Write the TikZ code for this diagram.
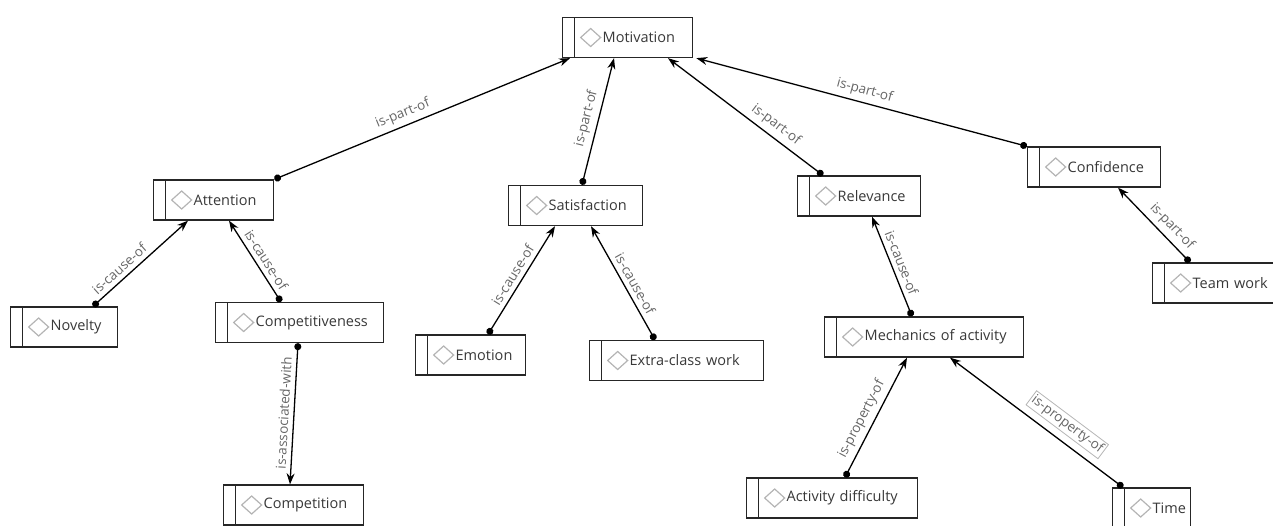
\documentclass[tikz,border=0pt]{standalone}
\usepackage{fontspec}
\setmainfont{Open Sans}
\usetikzlibrary{arrows.meta}
\setlength{\parindent}{0pt}
\definecolor{boxtext}{HTML}{383838}
\definecolor{reltext}{HTML}{666666}
\definecolor{icon}{HTML}{B4B4B4}

\begin{document}
\begin{tikzpicture}[x=1pt,y=-1pt,>={Stealth[length=11pt,width=8pt]},
	concept/.style={draw=black!85,line width=1.3pt,anchor=west,minimum height=40pt,
		inner xsep=0pt,inner ysep=0pt,text width=#1pt,align=left,text=boxtext,
		font=\fontsize{14.5}{17}\selectfont,execute at begin node={\hspace*{40pt}},
		path picture={
			\draw[black!85,line width=1.3pt] ([xshift=12pt]path picture bounding box.north west) -- ([xshift=12pt]path picture bounding box.south west);
			\draw[icon,line width=1.2pt] ([xshift=28pt]path picture bounding box.west) +(-10,0) -- +(0,-9) -- +(10,0) -- +(0,9) -- cycle;
		}},
	link/.style={{Circle[length=7pt]}->,line width=1.3pt},
	lbl/.style={sloped,above=2.5pt,font=\fontsize{13.5}{15}\selectfont,text=reltext,inner sep=2pt}]
	\useasboundingbox (0,0) rectangle (1273,525);
	% concepts
	\node[concept=130] (mot) at (562,37.5) {Motivation};
	\node[concept=120] (att) at (153,200) {Attention};
	\node[concept=107] (nov) at (10,327) {Novelty};
	\node[concept=168] (cmp) at (215,322.5) {Competitiveness};
	\node[concept=140] (cpn) at (223,505) {Competition};
	\node[concept=134] (sat) at (508,205.5) {Satisfaction};
	\node[concept=110] (emo) at (415,355) {Emotion};
	\node[concept=174] (ext) at (589,360.5) {Extra-class work};
	\node[concept=123] (rel) at (797,196) {Relevance};
	\node[concept=199] (mec) at (824,337) {Mechanics of activity};
	\node[concept=171] (act) at (746,498) {Activity difficulty};
	\node[concept=78] (tim) at (1112,508) {Time};
	\node[concept=133] (con) at (1027,167) {Confidence};
	\node[concept=131] (tea) at (1152,283) {Team work};
	% relations
	\draw[link] (att.north east) -- ([xshift=8pt]mot.south west) node[lbl,pos=0.45] {is-part-of};
	\draw[link] ([xshift=74pt]sat.north west) -- ([xshift=52pt]mot.south west) node[lbl,pos=0.5] {is-part-of};
	\draw[link] ([xshift=26pt]rel.north west) -- ([xshift=106pt]mot.south west) node[lbl,pos=0.35] {is-part-of};
	\draw[link] (con.north west) -- ([xshift=3pt]mot.south east) node[lbl,pos=0.5] {is-part-of};
	\draw[link] ([xshift=83pt]nov.north west) -- ([xshift=35pt]att.south west) node[lbl,pos=0.35] {is-cause-of};
	\draw[link] ([xshift=66pt]cmp.north west) -- ([xshift=76pt]att.south west) node[lbl,pos=0.45] {is-cause-of};
	\draw[link] ([xshift=83pt]cmp.south west) -- ([xshift=67pt]cpn.north west) node[lbl,pos=0.5] {is-associated-with};
	\draw[link] ([xshift=73pt]emo.north west) -- ([xshift=47pt]sat.south west) node[lbl,pos=0.5] {is-cause-of};
	\draw[link] ([xshift=66pt]ext.north west) -- ([xshift=83pt]sat.south west) node[lbl,pos=0.45] {is-cause-of};
	\draw[link] ([xshift=88pt]mec.north west) -- ([xshift=75pt]rel.south west) node[lbl,pos=0.5] {is-cause-of};
	\draw[link] ([xshift=99pt]act.north west) -- ([xshift=83pt]mec.south west) node[lbl,pos=0.44] {is-property-of};
	\draw[link] ([xshift=11pt]tim.north west) -- ([xshift=126pt]mec.south west) node[lbl,pos=0.38,draw=icon,line width=0.8pt,above=5pt] {is-property-of};
	\draw[link] ([xshift=38pt]tea.north west) -- ([xshift=91pt]con.south west) node[lbl,pos=0.37] {is-part-of};
\end{tikzpicture}
\end{document}
